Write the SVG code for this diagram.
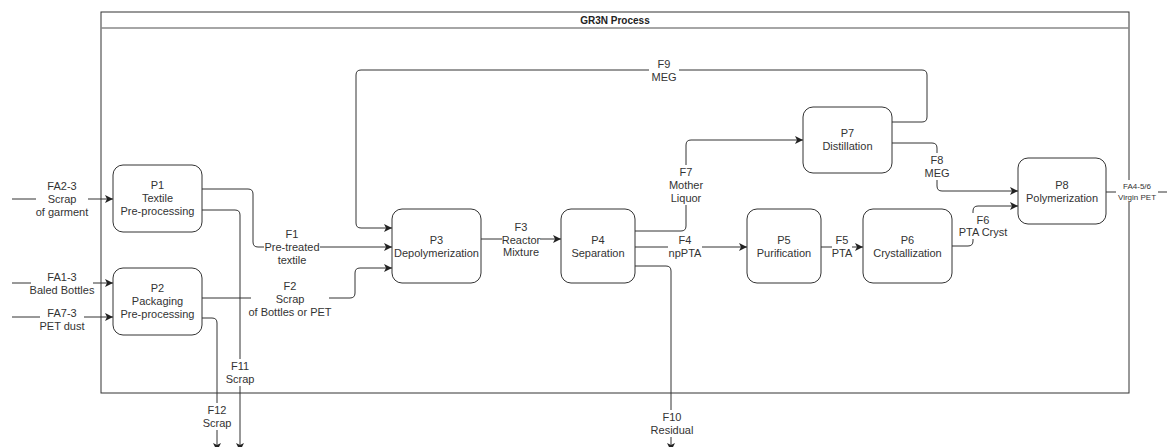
<svg xmlns="http://www.w3.org/2000/svg" width="1167" height="447" viewBox="0 0 1167 447">
  <style>
    text { font-family: "Liberation Sans", Arial, sans-serif; font-size: 11px; fill: #333; text-anchor: middle; }
    .title { font-weight: bold; font-size: 10px; fill: #222; }
    .small { font-size: 8px; }
    .node { fill: #fff; stroke: #333; stroke-width: 1; }
    .edge { fill: none; stroke: #333; stroke-width: 1; }
    .arrow { marker-end: url(#arr); }
    .lbg { fill: #fff; }
  </style>
  <defs>
    <marker id="arr" markerUnits="userSpaceOnUse" markerWidth="10" markerHeight="10" refX="8" refY="4" orient="auto">
      <path d="M0,0 L8,4 L0,8 L2,4 Z" fill="#222"/>
    </marker>
  </defs>
  <rect width="1167" height="447" fill="#fff"/>

  <!-- process container -->
  <g id="container">
    <rect x="101" y="12" width="1028" height="381" fill="none" stroke="#333" stroke-width="1"/>
    <line x1="101" y1="28" x2="1129" y2="28" stroke="#888" stroke-width="1.5"/>
    <text class="title" x="615" y="24">GR3N Process</text>
  </g>

  <!-- connectors -->
  <g id="connectors">
    <path class="edge arrow" d="M12,199 H113"/>
    <path class="edge arrow" d="M12,283 H113"/>
    <path class="edge arrow" d="M12,317 H113"/>
    <path class="edge arrow" d="M202,189 H248 Q253,189 253,194 V242 Q253,247 258,247 H392"/>
    <path class="edge arrow" d="M202,210 H235 Q240,210 240,215 V451"/>
    <path class="edge arrow" d="M202,298 H350 Q355,298 355,293 V273 Q355,268 360,268 H392"/>
    <path class="edge arrow" d="M202,318 H212 Q217,318 217,323 V451"/>
    <path class="edge arrow" d="M892,122 H922 Q927,122 927,117 V75 Q927,70 922,70 H361 Q356,70 356,75 V223 Q356,228 361,228 H392"/>
    <path class="edge arrow" d="M481,239 H561"/>
    <path class="edge arrow" d="M635,231 H681 Q686,231 686,226 V145 Q686,140 691,140 H803"/>
    <path class="edge arrow" d="M635,247 H747"/>
    <path class="edge arrow" d="M635,266 H666 Q671,266 671,271 V451"/>
    <path class="edge arrow" d="M821,247 H863"/>
    <path class="edge arrow" d="M952,246 H968 Q973,246 973,241 V211 Q973,206 978,206 H1018"/>
    <path class="edge arrow" d="M892,143 H932 Q937,143 937,148 V186 Q937,191 942,191 H1018"/>
    <path class="edge" d="M1106,192 H1167"/>

    <!-- flow labels -->
    <rect class="lbg" x="36" y="179" width="52" height="39"/>
    <text x="62" y="190">FA2-3</text>
    <text x="62" y="203">Scrap</text>
    <text x="62" y="216">of garment</text>

    <rect class="lbg" x="31" y="271" width="62" height="25"/>
    <text x="62" y="281">FA1-3</text>
    <text x="62" y="294">Baled Bottles</text>

    <rect class="lbg" x="40" y="306" width="44" height="26"/>
    <text x="62" y="317">FA7-3</text>
    <text x="62" y="330">PET dust</text>

    <rect class="lbg" x="264" y="227" width="56" height="40"/>
    <text x="292" y="238">F1</text>
    <text x="292" y="251">Pre-treated</text>
    <text x="292" y="264">textile</text>

    <rect class="lbg" x="251" y="279" width="78" height="40"/>
    <text x="290" y="290">F2</text>
    <text x="290" y="303">Scrap</text>
    <text x="290" y="316">of Bottles or PET</text>

    <rect class="lbg" x="226" y="359" width="28" height="27"/>
    <text x="240" y="370">F11</text>
    <text x="240" y="383">Scrap</text>

    <rect class="lbg" x="203" y="403" width="28" height="27"/>
    <text x="217" y="414">F12</text>
    <text x="217" y="427">Scrap</text>

    <rect class="lbg" x="502" y="220" width="38" height="39"/>
    <text x="521" y="231">F3</text>
    <text x="521" y="243.5">Reactor</text>
    <text x="521" y="256">Mixture</text>

    <rect class="lbg" x="670" y="165" width="33" height="40"/>
    <text x="686" y="176">F7</text>
    <text x="686" y="189">Mother</text>
    <text x="686" y="202">Liquor</text>

    <rect class="lbg" x="668" y="233" width="34" height="27"/>
    <text x="685" y="244">F4</text>
    <text x="685" y="257">npPTA</text>

    <rect class="lbg" x="651" y="410" width="42" height="27"/>
    <text x="672" y="421">F10</text>
    <text x="672" y="434">Residual</text>

    <rect class="lbg" x="832" y="233" width="20" height="27"/>
    <text x="842" y="244">F5</text>
    <text x="842" y="257">PTA</text>

    <rect class="lbg" x="961" y="213" width="44" height="26"/>
    <text x="983" y="223.5">F6</text>
    <text x="983" y="236">PTA Cryst</text>

    <rect class="lbg" x="926" y="153" width="22" height="27"/>
    <text x="937" y="164">F8</text>
    <text x="937" y="177">MEG</text>

    <rect class="lbg" x="649" y="57" width="30" height="27"/>
    <text x="664" y="68">F9</text>
    <text x="664" y="81">MEG</text>

    <rect class="lbg" x="1116" y="180" width="42" height="22"/>
    <text class="small" x="1137" y="189">FA4-5/6</text>
    <text class="small" x="1137" y="200">Virgin PET</text>
  </g>

  <!-- process nodes -->
  <g id="P1">
    <rect class="node" x="113" y="165" width="89" height="67" rx="10"/>
    <text x="157.5" y="189">P1</text>
    <text x="157.5" y="202">Textile</text>
    <text x="157.5" y="215">Pre-processing</text>
  </g>
  <g id="P2">
    <rect class="node" x="113" y="268" width="89" height="67" rx="10"/>
    <text x="157.5" y="292">P2</text>
    <text x="157.5" y="305">Packaging</text>
    <text x="157.5" y="318">Pre-processing</text>
  </g>
  <g id="P3">
    <rect class="node" x="392" y="209" width="89" height="74" rx="10"/>
    <text x="436.5" y="244">P3</text>
    <text x="436.5" y="257">Depolymerization</text>
  </g>
  <g id="P4">
    <rect class="node" x="561" y="209" width="74" height="74" rx="10"/>
    <text x="598" y="244">P4</text>
    <text x="598" y="257">Separation</text>
  </g>
  <g id="P5">
    <rect class="node" x="747" y="209" width="74" height="74" rx="10"/>
    <text x="784" y="244">P5</text>
    <text x="784" y="257">Purification</text>
  </g>
  <g id="P6">
    <rect class="node" x="863" y="209" width="89" height="74" rx="10"/>
    <text x="907.5" y="244">P6</text>
    <text x="907.5" y="257">Crystallization</text>
  </g>
  <g id="P7">
    <rect class="node" x="803" y="107" width="89" height="66" rx="10"/>
    <text x="847.5" y="137">P7</text>
    <text x="847.5" y="150">Distillation</text>
  </g>
  <g id="P8">
    <rect class="node" x="1018" y="158" width="88" height="66" rx="10"/>
    <text x="1062" y="189">P8</text>
    <text x="1062" y="202">Polymerization</text>
  </g>
</svg>
